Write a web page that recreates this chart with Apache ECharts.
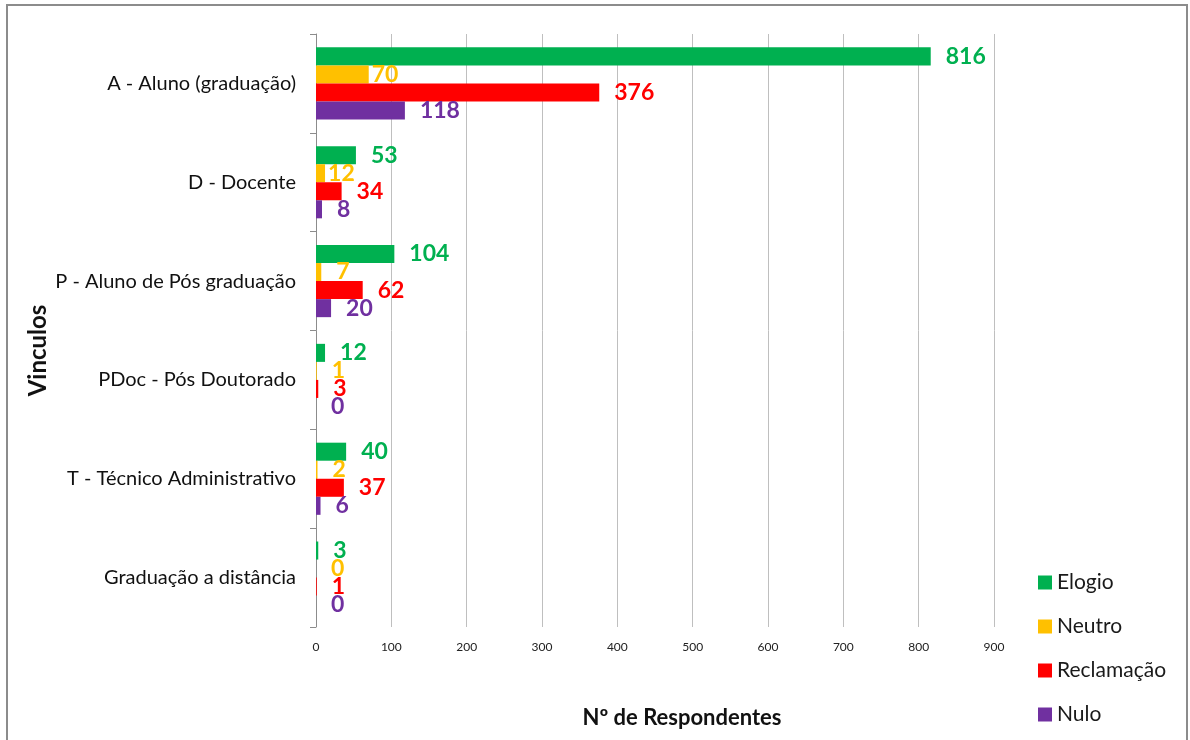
<!DOCTYPE html>
<html>
<head>
<meta charset="utf-8">
<script src="https://cdn.jsdelivr.net/npm/echarts@6/dist/echarts.min.js"></script>
<style>
html,body{margin:0;padding:0;background:#fff;}
#c{width:1190px;height:740px;}
</style>
</head>
<body>
<div id="c"></div>
<script>
const categories = ['A - Aluno (graduação)', 'D - Docente', 'P - Aluno de Pós graduação', 'PDoc - Pós Doutorado', 'T - Técnico Administrativo', 'Graduação a distância'];
const elogio = [816, 53, 104, 12, 40, 3];
const neutro = [70, 12, 7, 1, 2, 0];
const reclamacao = [376, 34, 62, 3, 37, 1];
const nulo = [118, 8, 20, 0, 6, 0];
const xTicks = [0, 100, 200, 300, 400, 500, 600, 700, 800, 900];

const FONT = 'Lato';
function mk(name, data, color, dists) {
  return {
    name: name, type: 'bar',
    data: data.map((v, i) => ({ value: v, label: { distance: dists[i] } })),
    barGap: '0%', barCategoryGap: '27%',
    itemStyle: { color: color },
    label: { show: true, position: 'right', color: color, fontFamily: FONT, fontWeight: 'bold', fontSize: 23 }
  };
}
const D15 = [15, 15, 15, 15, 15, 15];
const chart = echarts.init(document.getElementById('c'));
chart.setOption({
  animation: false,
  backgroundColor: '#fff',
  graphic: [{ type: 'rect', shape: { x: 7, y: 5, width: 1180, height: 760 }, style: { fill: 'none', stroke: '#8c8c8c', lineWidth: 2 } }],
  grid: { left: 316, right: 196, top: 34, bottom: 113 },
  legend: {
    orient: 'vertical', left: 1033, top: 567, itemWidth: 14, itemHeight: 14, itemGap: 23, icon: 'rect',
    textStyle: { fontFamily: FONT, fontSize: 21, color: '#1a1a1a' },
    data: ['Elogio', 'Neutro', 'Reclamação', 'Nulo']
  },
  xAxis: {
    type: 'value', min: 0, max: 900, interval: 100,
    axisLine: { show: false }, axisTick: { show: false },
    splitLine: { lineStyle: { color: '#bfbfbf', width: 1 } },
    axisLabel: { fontFamily: FONT, fontSize: 12, color: '#222', margin: 14, formatter: v => xTicks.includes(v) ? String(v) : '' },
    name: 'Nº de Respondentes', nameLocation: 'middle', nameGap: 80, nameMoveOverlap: false,
    nameTextStyle: { fontFamily: FONT, fontWeight: 'bold', fontSize: 22, color: '#111', padding: [0, 0, 0, 54] }
  },
  yAxis: {
    type: 'category', data: categories, inverse: true,
    axisLine: { show: true, lineStyle: { color: '#8c8c8c', width: 1 } },
    axisTick: { show: true, length: 6, lineStyle: { color: '#8c8c8c' } },
    axisLabel: { fontFamily: FONT, fontSize: 20, color: '#111', margin: 20 },
    name: 'Vinculos', nameLocation: 'middle', nameGap: 266, nameRotate: 90, nameMoveOverlap: false,
    nameTextStyle: { fontFamily: FONT, fontWeight: 'bold', fontSize: 24, color: '#111', padding: [0, 40, 0, 0] }
  },
  series: [
    mk('Elogio', elogio, '#00B050', D15),
    mk('Neutro', neutro, '#FFC000', [3, 3, 15, 15, 15, 15]),
    mk('Reclamação', reclamacao, '#FF0000', D15),
    mk('Nulo', nulo, '#7030A0', D15)
  ]
});
</script>
</body>
</html>
